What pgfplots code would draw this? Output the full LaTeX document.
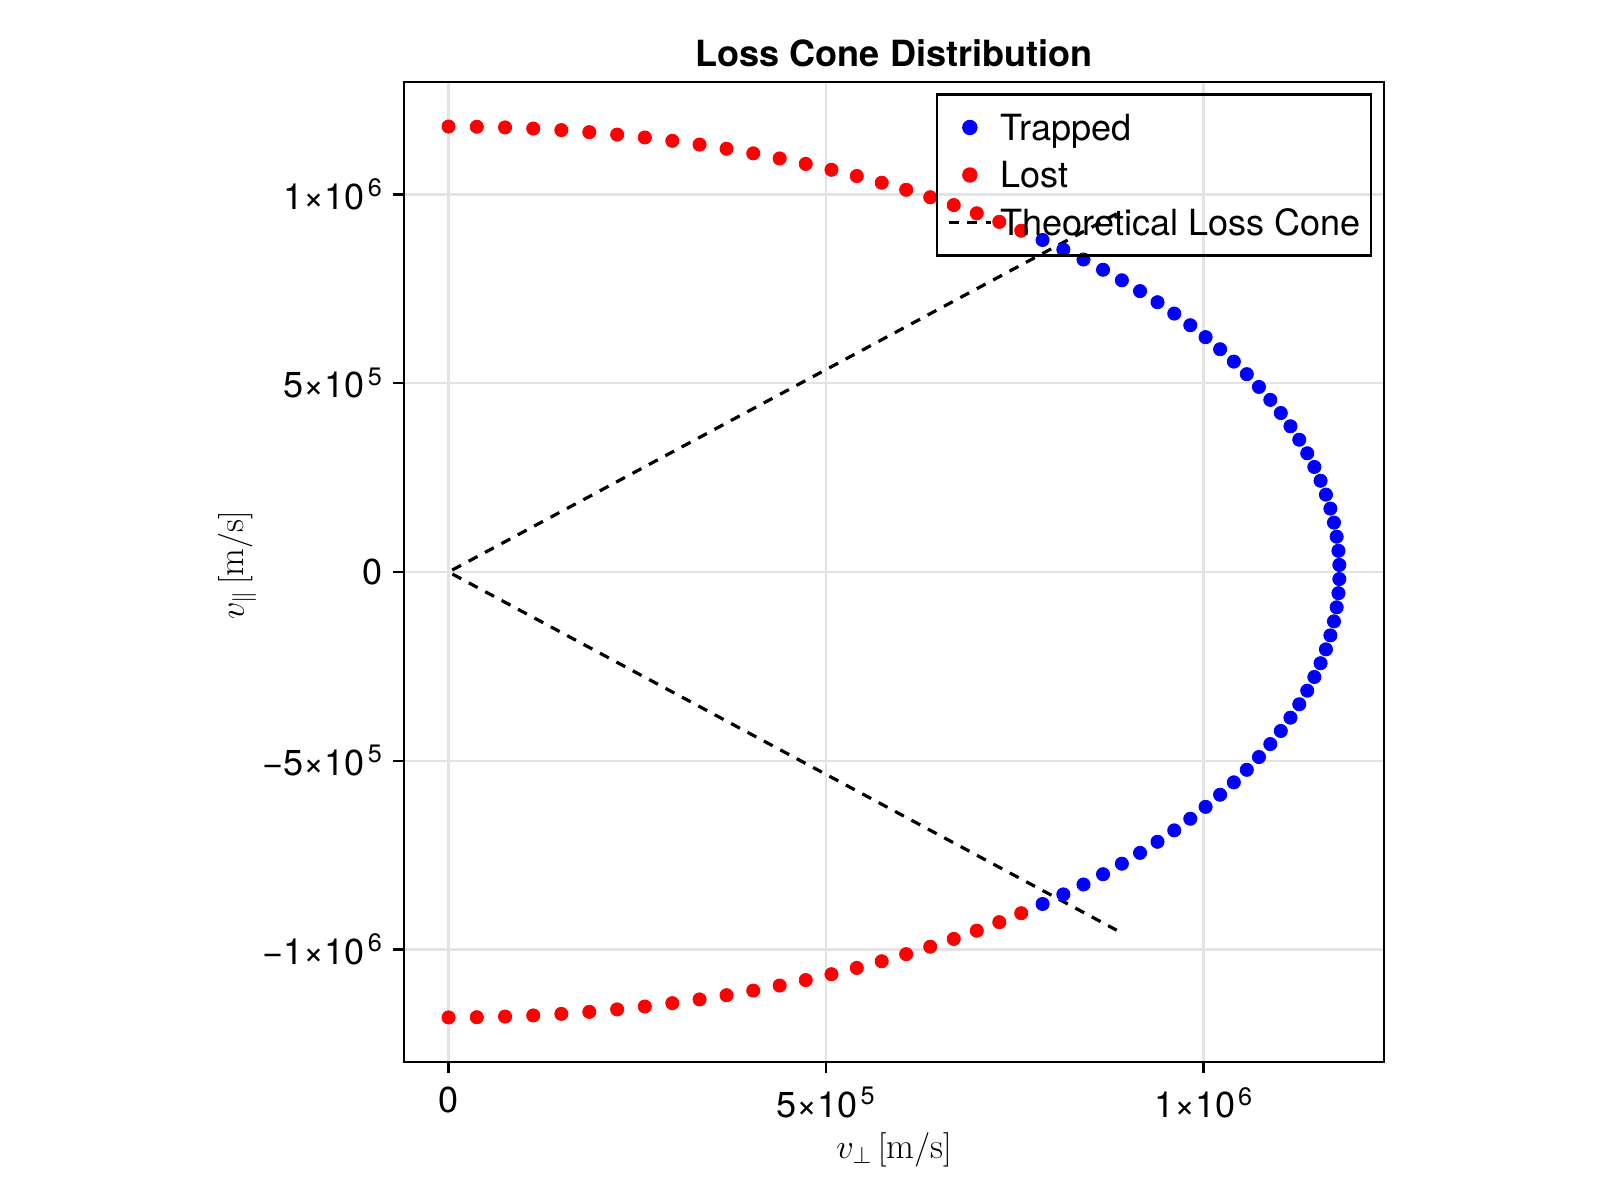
\documentclass[border=0pt]{standalone}
\usepackage{pgfplots}
\pgfplotsset{compat=1.18}
\usepackage{fontspec}
\newfontfamily\heros{TeX Gyre Heros}
\newcommand\fs{\fontsize{18.1}{21}\selectfont}
\newcommand\expo[1]{\kern1.4bp\textsuperscript{#1}}
\begin{document}
\begin{tikzpicture}
\path[use as bounding box] (0,0) rectangle (800bp,600bp);
\begin{axis}[
  at={(202bp,69bp)}, anchor=south west,
  scale only axis, width=490bp, height=490bp,
  xmin=-59000, xmax=1239000, ymin=-1298000, ymax=1298000,
  scaled ticks=false,
  xtick={0,500000,1000000},
  xticklabels={0,5×10\expo{5},1×10\expo{6}},
  ytick={-1000000,-500000,0,500000,1000000},
  yticklabels={−1×10\expo{6},−5×10\expo{5},0,5×10\expo{5},1×10\expo{6}},
  tick pos=left, tick align=outside,
  major tick length=5.4bp,
  tick style={black, line width=1.09bp},
  axis line style={line width=1.09bp},
  grid=major, major grid style={black!11, line width=1.09bp},
  tick label style={font=\heros\fs},
  xticklabel style={anchor=north, inner sep=0pt, yshift=-7bp},
  yticklabel style={anchor=east, inner sep=0pt, xshift=-5bp},
  every axis title shift=0pt,
  title={Loss Cone Distribution},
  title style={font=\heros\bfseries\fs, at={(axis description cs:0.5,1.0156)}, anchor=base},
  xlabel={$v_{\perp}\,[\mathrm{m/s}]$},
  ylabel={$v_{\parallel}\,[\mathrm{m/s}]$},
  label style={font=\fs},
  xlabel style={at={(axis description cs:0.5,-0.09796)}, anchor=base},
  ylabel style={at={(axis description cs:-0.1633,0.5067)}, anchor=base},
  legend style={at={(axis description cs:1,1)}, anchor=north east, xshift=-6bp, yshift=-5.7bp,
    draw=black, line width=1.09bp, fill=none, font=\heros\fs,
    inner xsep=5.2bp, inner ysep=8.5bp, row sep=7.75bp,
    nodes={inner sep=0pt, text height=14.5bp, text depth=1.5bp}},
  legend cell align=left,
  legend image code/.code={\path (0bp,0bp) (25bp,0bp);
    \draw[mark repeat=2,mark phase=2,#1] plot coordinates {(0bp,0bp) (10.5bp,0bp) (21bp,0bp)};},
]
% Trapped
\addplot[only marks, mark=*, color=blue, mark size=3.3bp, mark options={draw=none, fill=blue}] coordinates {
(0.78679e6,0.87941e6) (0.81429e6,0.85401e6) (0.84098e6,0.82774e6) (0.86682e6,0.80064e6)
(0.89179e6,0.77274e6) (0.91585e6,0.74405e6) (0.93900e6,0.71462e6) (0.96120e6,0.68447e6)
(0.98243e6,0.65363e6) (1.00268e6,0.62213e6) (1.02191e6,0.59000e6) (1.04011e6,0.55728e6)
(1.05727e6,0.52400e6) (1.07337e6,0.49019e6) (1.08838e6,0.45589e6) (1.10229e6,0.42113e6)
(1.11510e6,0.38594e6) (1.12678e6,0.35037e6) (1.13733e6,0.31444e6) (1.14674e6,0.27820e6)
(1.15499e6,0.24167e6) (1.16207e6,0.20490e6) (1.16799e6,0.16793e6) (1.17273e6,0.13079e6)
(1.17629e6,0.09351e6) (1.17866e6,0.05615e6) (1.17985e6,0.01872e6)
(1.17985e6,-0.01872e6) (1.17866e6,-0.05615e6) (1.17629e6,-0.09351e6) (1.17273e6,-0.13079e6)
(1.16799e6,-0.16793e6) (1.16207e6,-0.20490e6) (1.15499e6,-0.24167e6) (1.14674e6,-0.27820e6)
(1.13733e6,-0.31444e6) (1.12678e6,-0.35037e6) (1.11510e6,-0.38594e6) (1.10229e6,-0.42113e6)
(1.08838e6,-0.45589e6) (1.07337e6,-0.49019e6) (1.05727e6,-0.52400e6) (1.04011e6,-0.55728e6)
(1.02191e6,-0.59000e6) (1.00268e6,-0.62213e6) (0.98243e6,-0.65363e6) (0.96120e6,-0.68447e6)
(0.93900e6,-0.71462e6) (0.91585e6,-0.74405e6) (0.89179e6,-0.77274e6) (0.86682e6,-0.80064e6)
(0.84098e6,-0.82774e6) (0.81429e6,-0.85401e6) (0.78679e6,-0.87941e6)
};
\addlegendentry{Trapped}
% Lost
\addplot[only marks, mark=*, color=red, mark size=3.3bp, mark options={draw=none, fill=red}] coordinates {
(0,1.18e6) (0.03744e6,1.17941e6) (0.07484e6,1.17762e6) (0.11217e6,1.17466e6)
(0.14938e6,1.17051e6) (0.18644e6,1.16518e6) (0.22332e6,1.15868e6) (0.25997e6,1.15101e6)
(0.29637e6,1.14218e6) (0.33245e6,1.13220e6) (0.36820e6,1.12108e6) (0.40358e6,1.10884e6)
(0.43856e6,1.09547e6) (0.47310e6,1.08101e6) (0.50716e6,1.06545e6) (0.54071e6,1.04883e6)
(0.57371e6,1.03114e6) (0.60614e6,1.01242e6) (0.63796e6,0.99268e6) (0.66913e6,0.97194e6)
(0.69963e6,0.95022e6) (0.72943e6,0.92754e6) (0.75849e6,0.90393e6)
(0.75849e6,-0.90393e6) (0.72943e6,-0.92754e6) (0.69963e6,-0.95022e6) (0.66913e6,-0.97194e6)
(0.63796e6,-0.99268e6) (0.60614e6,-1.01242e6) (0.57371e6,-1.03114e6) (0.54071e6,-1.04883e6)
(0.50716e6,-1.06545e6) (0.47310e6,-1.08101e6) (0.43856e6,-1.09547e6) (0.40358e6,-1.10884e6)
(0.36820e6,-1.12108e6) (0.33245e6,-1.13220e6) (0.29637e6,-1.14218e6) (0.25997e6,-1.15101e6)
(0.22332e6,-1.15868e6) (0.18644e6,-1.16518e6) (0.14938e6,-1.17051e6) (0.11217e6,-1.17466e6)
(0.07484e6,-1.17762e6) (0.03744e6,-1.17941e6) (0,-1.18e6)
};
\addlegendentry{Lost}
% Theoretical loss cone
\addplot[black, line width=1.6bp, dash pattern=on 5bp off 4.3bp] coordinates {
(0.8850e6,0.9490e6) (0,0) (0.8850e6,-0.9490e6)
};
\addlegendentry{Theoretical Loss Cone}
\end{axis}
\end{tikzpicture}
\end{document}
